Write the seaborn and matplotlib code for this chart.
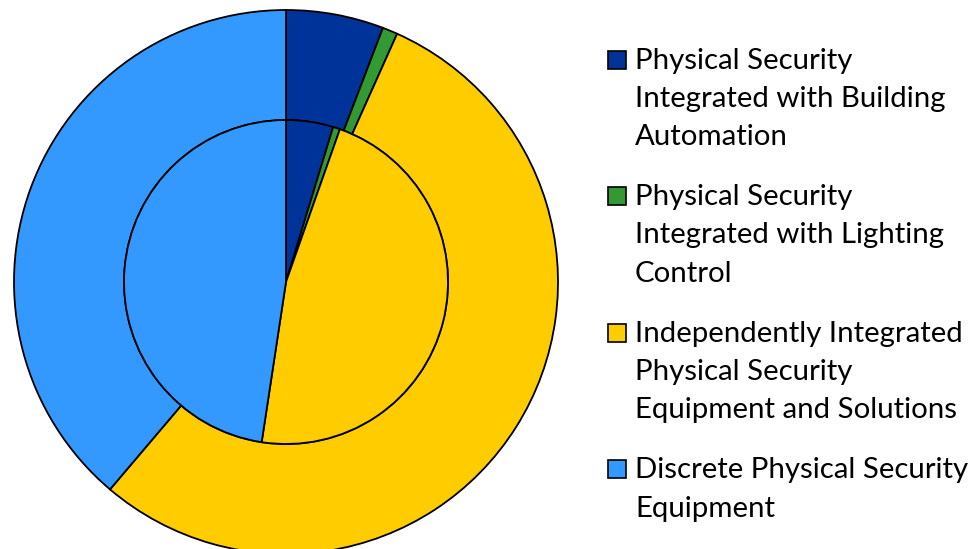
import matplotlib
matplotlib.use("Agg")
import matplotlib.pyplot as plt
import seaborn as sns
from matplotlib.patches import Rectangle

sns.set_theme(style="white")
plt.rcParams['font.family'] = ['Lato', 'DejaVu Sans']

categories = [
    "Physical Security\nIntegrated with Building\nAutomation",
    "Physical Security\nIntegrated with Lighting\nControl",
    "Independently Integrated\nPhysical Security\nEquipment and Solutions",
    "Discrete Physical Security\nEquipment",
]
outer_values = [5.8, 0.9, 54.5, 38.8]
inner_values = [4.7, 0.7, 47.0, 47.6]
hex_colors = ["#003399", "#339933", "#FFCC00", "#3399FF"]

W, H = 971, 549
fig = plt.figure(figsize=(W / 100, H / 100), dpi=100)
ax = fig.add_axes([0, 0, 1, 1])

colors = sns.color_palette(hex_colors)
cx, cy = 286, H - 282
r_out, r_in = 272, 162
edge = dict(edgecolor="black", linewidth=1.3)

ax.pie(outer_values, colors=colors, radius=r_out, center=(cx, cy),
       startangle=90, counterclock=False,
       wedgeprops=dict(width=r_out - r_in, **edge))
ax.pie(inner_values, colors=colors, radius=r_in, center=(cx, cy),
       startangle=90, counterclock=False, wedgeprops=dict(**edge))

ax.set_xlim(0, W)
ax.set_ylim(0, H)
ax.set_aspect("equal")
ax.axis("off")

# legend (manual, handle aligned with first line)
base0, entry_gap, line_gap = 68.5, 136.6, 38.3
for i, (lab, col) in enumerate(zip(categories, colors)):
    b = base0 + entry_gap * i
    ax.add_patch(Rectangle((607.5, H - b), 18, 18, facecolor=col,
                           edgecolor="black", linewidth=1.2))
    for j, line in enumerate(lab.split("\n")):
        ax.text(635, H - (b + j * line_gap), line, fontsize=21.2,
                ha="left", va="baseline", color="black")

fig.savefig("out.png", dpi=100)
